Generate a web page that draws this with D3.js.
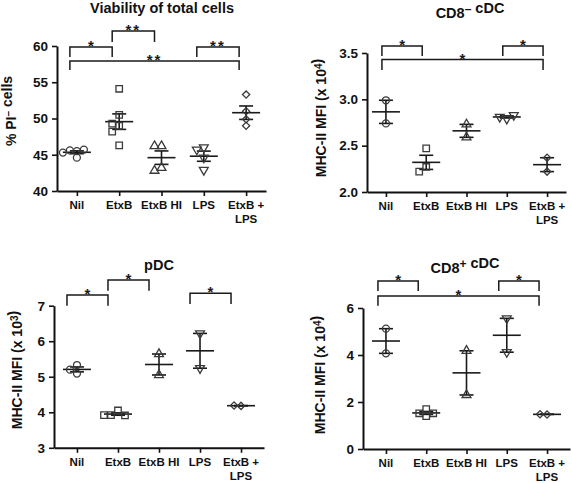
<!DOCTYPE html>
<html>
<head>
<meta charset="utf-8">
<script src="https://cdn.jsdelivr.net/npm/d3@7"></script>
<style>
  html, body { margin: 0; padding: 0; background: #fff; }
  svg { display: block; font-family: "Liberation Sans", Arial, Helvetica, sans-serif; }
</style>
</head>
<body>
<svg id="chart" width="572" height="483"></svg>
<script>
// ---------- DATA ----------
const categories = ["Nil", "EtxB", "EtxB HI", "LPS", "EtxB + LPS"];

// Viability of total cells (% PI- cells)
const viabilityValues = [
  [45.5, 45.6, 45.7, 44.6, 45.3],
  [54.1, 50.5, 49.0, 49.3, 48.2, 46.3],
  [46.2, 46.2, 43.2, 42.8],
  [46.0, 45.7, 44.6, 42.9],
  [53.3, 51.0, 49.9, 49.0]
];
const viabilityTicks = [40, 45, 50, 55, 60];
const viabilityComparisons = [["Nil", "EtxB", "*"], ["EtxB", "EtxB HI", "**"], ["LPS", "EtxB + LPS", "**"], ["Nil", "EtxB + LPS", "**"]];

// CD8- cDC  MHC-II MFI (x 10^4)
const cd8negValues = [
  [2.99, 2.74],
  [2.47, 2.27, 2.22],
  [2.73, 2.59],
  [2.79, 2.81, 2.83],
  [2.37, 2.22]
];
const cd8negTicks = [2.0, 2.5, 3.0, 3.5];
const cd8negComparisons = [["Nil", "EtxB", "*"], ["LPS", "EtxB + LPS", "*"], ["Nil", "EtxB + LPS", "*"]];

// pDC  MHC-II MFI (x 10^3)
const pdcValues = [
  [5.09, 5.33, 5.20],
  [4.05, 3.92, 3.91, 3.92],
  [5.64, 5.05],
  [6.22, 5.24],
  [4.18, 4.19]
];
const pdcTicks = [3, 4, 5, 6, 7];
const pdcComparisons = [["Nil", "EtxB", "*"], ["EtxB", "EtxB HI", "*"], ["LPS", "EtxB + LPS", "*"]];

// CD8+ cDC  MHC-II MFI (x 10^4)
const cd8posValues = [
  [5.12, 4.07],
  [1.70, 1.40, 1.52, 1.52],
  [4.18, 2.30],
  [5.56, 4.12],
  [1.47, 1.48]
];
const cd8posTicks = [0, 2, 4, 6];
const cd8posComparisons = [["Nil", "EtxB", "*"], ["LPS", "EtxB + LPS", "*"], ["Nil", "EtxB + LPS", "*"]];

// ---------- LAYOUT ----------
const panels = [
  { values: viabilityValues, ticks: viabilityTicks, comps: viabilityComparisons, fmt: d3.format("d"),
    x0: 57, x1: 266, pad: 0.47, yTop: 46, yBot: 191,
    title: ["Viability of total cells"], titleX: 162, titleY: 13,
    ylab: [["% PI", ""], ["\u2013", "sup"], [" cells", ""]], ylabX: 16, ylabY: 111,
    brackets: [[47, 57], [31, 42], [47, 57], [61, 70]], bOff: -7 },
  { values: cd8negValues, ticks: cd8negTicks, comps: cd8negComparisons, fmt: d3.format(".1f"),
    x0: 367, x1: 566, pad: 0.47, yTop: 53, yBot: 192,
    title: [["CD8", ""], ["\u2013", "sup"], [" cDC", ""]], titleX: 470, titleY: 18,
    ylab: [["MHC-II MFI (x 10", ""], ["4", "sup"], [")", ""]], ylabX: 326, ylabY: 118,
    brackets: [[46, 56], [46, 56], [59.5, 70]], bOff: -4 },
  { values: pdcValues, ticks: pdcTicks, comps: pdcComparisons, fmt: d3.format("d"),
    x0: 54, x1: 264, pad: 0.56, yTop: 305.7, yBot: 447.8,
    title: [["pDC", ""]], titleX: 159, titleY: 270,
    ylab: [["MHC-II MFI (x 10", ""], ["3", "sup"], [")", ""]], ylabX: 22, ylabY: 370,
    brackets: [[295, 305.7], [280, 290.7], [293.3, 304]], bOff: -10 },
  { values: cd8posValues, ticks: cd8posTicks, comps: cd8posComparisons, fmt: d3.format("d"),
    x0: 363, x1: 570, pad: 0.57, yTop: 308, yBot: 449,
    title: [["CD8", ""], ["+", "sup"], [" cDC", ""]], titleX: 465, titleY: 273,
    ylab: [["MHC-II MFI (x 10", ""], ["4", "sup"], [")", ""]], ylabX: 325, ylabY: 375,
    brackets: [[281, 291], [281, 291], [296, 305.7]], bOff: -8 }
];

const shapes = [d3.symbolCircle, d3.symbolSquare, d3.symbolTriangle, d3.symbolTriangle, d3.symbolSquare];
const shapeSizes = [38, 42, 34, 34, 26];
const shapeRot = [0, 0, 0, 180, 45];

const svg = d3.select("#chart");

function addRich(textSel, parts, supSize) {
  parts.forEach(([t, kind]) => {
    if (kind === "sup") {
      textSel.append("tspan").attr("dy", "-0.45em").attr("font-size", supSize).text(t);
      textSel.append("tspan").attr("dy", "0.45em").text("");
    } else {
      textSel.append("tspan").text(t);
    }
  });
}

panels.forEach(p => {
  const g = svg.append("g");
  const x = d3.scalePoint().domain(categories).range([p.x0, p.x1]).padding(p.pad);
  const dom = [p.ticks[0], p.ticks[p.ticks.length - 1]];
  const y = d3.scaleLinear().domain(dom).range([p.yBot, p.yTop]);

  const yAxis = g.append("g").attr("transform", `translate(${p.x0},0)`)
    .call(d3.axisLeft(y).tickValues(p.ticks).tickFormat(p.fmt).tickSize(5).tickSizeOuter(0).tickPadding(4));
  const xAxis = g.append("g").attr("transform", `translate(0,${p.yBot})`)
    .call(d3.axisBottom(x).tickSize(5).tickSizeOuter(0).tickPadding(4).tickFormat(""));
  [yAxis, xAxis].forEach(a => {
    a.selectAll("path.domain").attr("stroke", "#111").attr("stroke-width", 2);
    a.selectAll(".tick line").attr("stroke", "#111").attr("stroke-width", 1.6);
  });
  yAxis.selectAll(".tick text").attr("font-size", 13.5).attr("font-weight", "bold").attr("fill", "#111")
    .attr("font-family", "Liberation Sans, Arial, sans-serif");

  categories.forEach(c => {
    const t = g.append("text").attr("x", x(c)).attr("y", p.yBot + 18)
      .attr("text-anchor", "middle").attr("font-size", 11.5).attr("font-weight", "bold").attr("fill", "#111");
    const parts = c.split(" + ");
    if (parts.length > 1) {
      t.append("tspan").attr("x", x(c)).text(parts[0] + " +");
      t.append("tspan").attr("x", x(c)).attr("dy", 14).text(parts[1]);
    } else {
      t.text(c);
    }
  });

  const tt = g.append("text").attr("x", p.titleX).attr("y", p.titleY).attr("text-anchor", "middle")
    .attr("font-size", 14.5).attr("font-weight", "bold").attr("fill", "#111");
  if (typeof p.title[0] === "string") tt.text(p.title[0]); else addRich(tt, p.title, 12);

  const yl = g.append("text").attr("transform", `translate(${p.ylabX},${p.ylabY}) rotate(-90)`)
    .attr("text-anchor", "middle").attr("font-size", 14).attr("font-weight", "bold").attr("fill", "#111");
  addRich(yl, p.ylab, 10);

  p.values.forEach((vals, i) => {
    const cx = x(categories[i]);
    const mean = d3.mean(vals);
    const sem = d3.deviation(vals) / Math.sqrt(vals.length);
    g.append("line").attr("x1", cx - 14).attr("x2", cx + 14).attr("y1", y(mean)).attr("y2", y(mean))
      .attr("stroke", "#1a1a1a").attr("stroke-width", 1.6);
    g.append("line").attr("x1", cx).attr("x2", cx).attr("y1", y(mean + sem)).attr("y2", y(mean - sem))
      .attr("stroke", "#1a1a1a").attr("stroke-width", 1.6);
    [mean + sem, mean - sem].forEach(v => {
      g.append("line").attr("x1", cx - 7).attr("x2", cx + 7).attr("y1", y(v)).attr("y2", y(v))
        .attr("stroke", "#1a1a1a").attr("stroke-width", 1.6);
    });
    const placed = [];
    const offs = [0, -7, 7, -14, 14];
    vals.forEach(v => {
      const py = y(v);
      let ox = 0;
      for (const o of offs) {
        if (placed.every(q => Math.hypot(q[0] - o, q[1] - py) >= 6.5)) { ox = o; break; }
      }
      placed.push([ox, py]);
      g.append("path")
        .attr("d", d3.symbol().type(shapes[i]).size(shapeSizes[i])())
        .attr("transform", `translate(${cx + ox},${py}) rotate(${shapeRot[i]})`)
        .attr("fill", "none").attr("stroke", "#3a3a3a").attr("stroke-width", 1.3);
    });
  });

  p.comps.forEach((c, k) => {
    const [top, bot] = p.brackets[k];
    const xa = x(c[0]) + p.bOff, xb = x(c[1]) + p.bOff;
    g.append("path").attr("d", `M${xa},${bot}V${top}H${xb}V${bot}`)
      .attr("fill", "none").attr("stroke", "#1a1a1a").attr("stroke-width", 1.5);
    g.append("text").attr("x", (xa + xb) / 2).attr("y", top + 4).attr("text-anchor", "middle")
      .attr("font-size", 15).attr("font-weight", "bold").attr("letter-spacing", c[2].length > 1 ? 2 : 0)
      .attr("fill", "#1a1a1a").text(c[2]);
  });
});
</script>
</body>
</html>
